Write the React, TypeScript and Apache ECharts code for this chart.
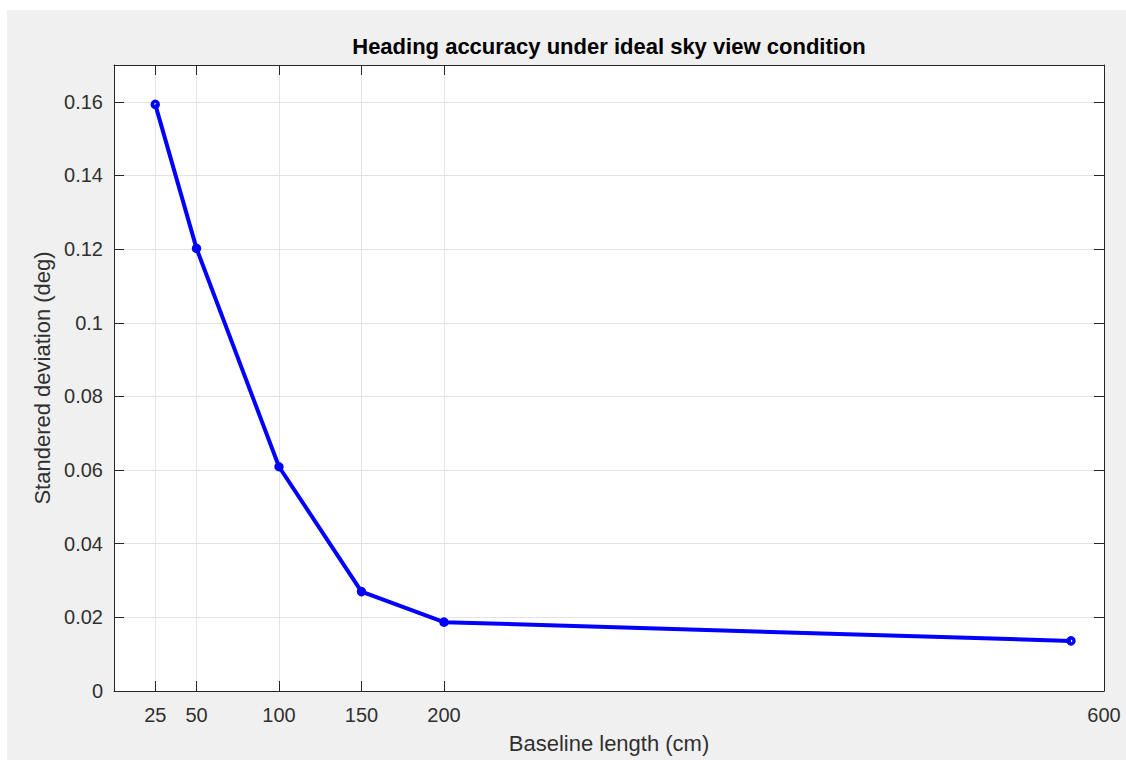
import React, { useEffect, useRef } from "react";
import * as echarts from "echarts";

const baselineCm = [25, 50, 100, 150, 200, 580];
const stdDevDeg = [0.1593, 0.1202, 0.0609, 0.027, 0.0187, 0.0136];
const xTicks = [25, 50, 100, 150, 200, 600];
const xRange = [0, 600];
const yRange = [0, 0.17];
const yStep = 0.02;

const titleText = "Heading accuracy under ideal sky view condition";
const xName = "Baseline length (cm)";
const yName = "Standered deviation (deg)";

const FONT = "'Liberation Sans', Arial, Helvetica, sans-serif";
const AX = "#262626";
const LABEL = "#303030";
const GRIDC = "#e3e3e3";

export default function App() {
  const ref = useRef<HTMLDivElement>(null);
  useEffect(() => {
    if (!ref.current) return;
    const chart = echarts.init(ref.current, undefined, { renderer: "svg" });
    const mkLine = () => ({ show: true, onZero: false, lineStyle: { color: AX, width: 1 } });
    const mkTick = (custom?: number[]) => ({
      show: true,
      inside: true,
      length: 10,
      lineStyle: { color: AX, width: 1 },
      ...(custom ? { customValues: custom } : {}),
    });
    chart.setOption({
      animation: false,
      backgroundColor: "#f0f0f0",
      textStyle: { fontFamily: FONT },
      grid: {
        left: 107,
        top: 55,
        width: 990,
        height: 626,
        show: true,
        backgroundColor: "#ffffff",
        borderWidth: 0,
        containLabel: false,
      },
      graphic: [
        {
          type: "text",
          x: 602,
          y: 36,
          style: {
            text: titleText,
            fontFamily: FONT,
            fontSize: 22,
            fontWeight: "bold",
            fill: "#000000",
            textAlign: "center",
            textVerticalAlign: "middle",
          },
        },
      ],
      xAxis: [
        {
          type: "value",
          position: "bottom",
          min: xRange[0],
          max: xRange[1],
          axisLine: mkLine(),
          axisTick: mkTick(xTicks),
          axisLabel: {
            customValues: xTicks,
            color: LABEL,
            fontSize: 20,
            fontFamily: FONT,
            margin: 14,
          },
          splitLine: { show: true, lineStyle: { color: GRIDC, width: 1 } },
          name: xName,
          nameLocation: "middle",
          nameGap: 41,
          nameTextStyle: { color: LABEL, fontSize: 22, fontFamily: FONT },
        },
        {
          type: "value",
          position: "top",
          min: xRange[0],
          max: xRange[1],
          axisLine: mkLine(),
          axisTick: mkTick(xTicks),
          axisLabel: { show: false, customValues: xTicks },
          splitLine: { show: false },
        },
      ],
      yAxis: [
        {
          type: "value",
          position: "left",
          min: yRange[0],
          max: yRange[1],
          interval: yStep,
          axisLine: mkLine(),
          axisTick: mkTick(),
          axisLabel: {
            color: LABEL,
            fontSize: 20,
            fontFamily: FONT,
            margin: 11,
            showMaxLabel: false,
          },
          splitLine: { show: true, lineStyle: { color: GRIDC, width: 1 } },
          name: yName,
          nameLocation: "middle",
          nameGap: 55,
          nameTextStyle: { color: LABEL, fontSize: 22, fontFamily: FONT },
        },
        {
          type: "value",
          position: "right",
          min: yRange[0],
          max: yRange[1],
          interval: yStep,
          axisLine: mkLine(),
          axisTick: mkTick(),
          axisLabel: { show: false },
          splitLine: { show: false },
        },
      ],
      series: [
        {
          type: "line",
          xAxisIndex: 0,
          yAxisIndex: 0,
          data: baselineCm.map((x, i) => [x, stdDevDeg[i]]),
          lineStyle: { color: "#0000ff", width: 4 },
          symbol: "circle",
          symbolSize: 6,
          itemStyle: { color: "rgba(0,0,0,0)", borderColor: "#0000ff", borderWidth: 3.5 },
          z: 5,
        },
      ],
    });
    return () => chart.dispose();
  }, []);
  return (
    <div
      style={{
        position: "fixed",
        left: 0,
        top: 0,
        width: 1126,
        height: 760,
        background: "#ffffff",
      }}
    >
      <div
        ref={ref}
        style={{ position: "absolute", left: 7, top: 10, width: 1119, height: 750 }}
      />
    </div>
  );
}
